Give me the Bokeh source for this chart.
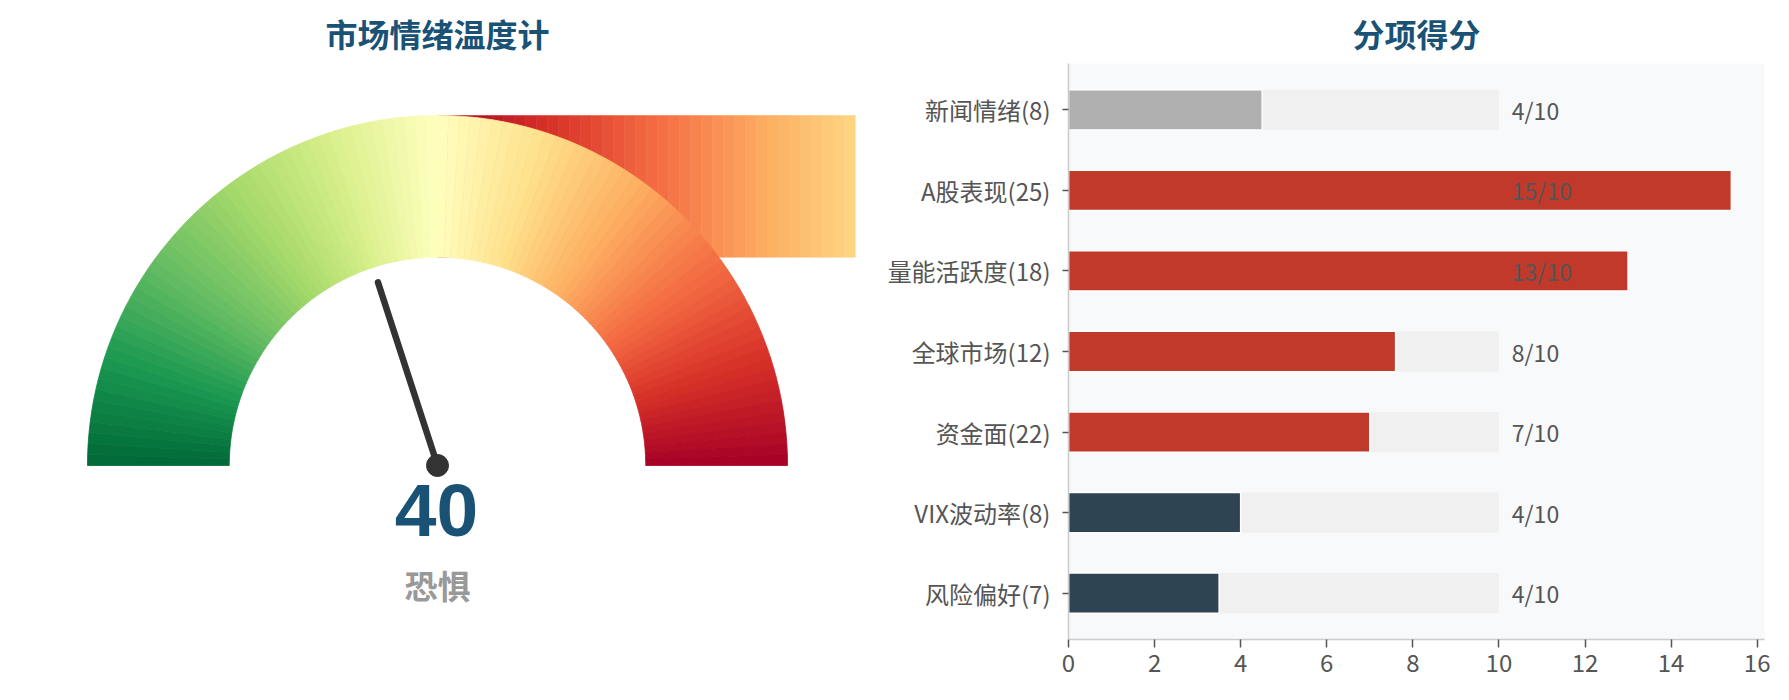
import math
from bokeh.plotting import figure
from bokeh.layouts import row
from bokeh.models import Range1d, FixedTicker, ColumnDataSource, Title
from bokeh.core.properties import value
from bokeh.embed import file_html
from bokeh.resources import INLINE

# ---------------- data ----------------
gauge_title = "市场情绪温度计"
score = 40
mood = "恐惧"

bar_title = "分项得分"
categories = ["新闻情绪(8)", "A股表现(25)", "量能活跃度(18)", "全球市场(12)",
              "资金面(22)", "VIX波动率(8)", "风险偏好(7)"]
scores = [4.5, 15.4, 13.0, 7.6, 7.0, 4.0, 3.5]
score_labels = ["4/10", "15/10", "13/10", "8/10", "7/10", "4/10", "4/10"]
full_scale = [10, 10, 10, 10, 10, 10, 10]
bar_colors = ["#b0b0b0", "#c0392b", "#c0392b", "#c0392b", "#c0392b", "#2e4453", "#2e4453"]
x_ticks = [0, 2, 4, 6, 8, 10, 12, 14, 16]

# RdYlGn palette (red -> green)
RDYLGN = ['#a50026', '#d73027', '#f46d43', '#fdae61', '#fee08b', '#ffffbf',
          '#d9ef8b', '#a6d96a', '#66bd63', '#1a9850', '#006837']


def cmap(c):
    c = min(max(c, 0.0), 1.0)
    pos = c * (len(RDYLGN) - 1)
    i = min(int(pos), len(RDYLGN) - 2)
    f = pos - i
    a = RDYLGN[i]
    b = RDYLGN[i + 1]
    rgb = []
    for k in (1, 3, 5):
        va = int(a[k:k + 2], 16)
        vb = int(b[k:k + 2], 16)
        rgb.append(round(va + (vb - va) * f))
    return "#%02x%02x%02x" % tuple(rgb)


CJK = value("Noto Sans CJK SC")
TITLE_COLOR = "#1a5276"
TEXT_COLOR = "#555555"
FIG_H = 690
BORDER_TOP = 63
BORDER_BOTTOM = 51
TITLE_STANDOFF = 15

# ---------------- gauge ----------------
N_SEG = 100
R_IN, R_OUT = 0.595, 1.0
starts, ends, cols = [], [], []
for i in range(N_SEG):
    t = (i + 0.5) / N_SEG
    starts.append(math.pi - (i + 1) * math.pi / N_SEG)
    ends.append(math.pi - i * math.pi / N_SEG)
    cols.append(cmap(1 - t))

g = figure(width=874, height=FIG_H, output_backend="svg", toolbar_location=None,
           x_range=Range1d(-1.24857, 1.24857), y_range=Range1d(-0.49714, 1.14857),
           min_border_left=0, min_border_right=0,
           min_border_top=BORDER_TOP, min_border_bottom=BORDER_BOTTOM)
g.axis.visible = False
g.grid.visible = False
g.outline_line_color = None
g.background_fill_color = "white"
g.border_fill_color = "white"

# stray strip of gauge segments (drawn flat, as in the reference)
sel = [k for k, s in enumerate(starts) if s < 0.375 * math.pi + 1e-9]
g.quad(left=[starts[k] for k in sel], right=[ends[k] for k in sel],
       bottom=R_IN, top=R_OUT,
       fill_color=[cols[k] for k in sel], line_color=[cols[k] for k in sel],
       line_width=0.5)

g.annular_wedge(x=0, y=0, inner_radius=R_IN, outer_radius=R_OUT,
                start_angle=starts, end_angle=ends,
                fill_color=cols, line_color=cols, line_width=0.8)

ang = math.pi * (1 - score / 100.0)
g.segment(x0=[0], y0=[0], x1=[0.55 * math.cos(ang)], y1=[0.55 * math.sin(ang)],
          line_color="#333333", line_width=6.5, line_cap="round")
g.scatter(x=[0], y=[0], size=22, fill_color="#333333", line_color="#333333")

g.text(x=[-0.003], y=[-0.127], text=[str(score)], text_font=value("Liberation Sans"),
       text_font_style="bold", text_font_size="75px", text_color=TITLE_COLOR,
       text_align="center", text_baseline="middle")
g.text(x=[0.0], y=[-0.34], text=[mood], text_font=CJK, text_font_style="bold",
       text_font_size="33px", text_color="#999999", text_align="center",
       text_baseline="middle")
g.title = Title(text=gauge_title, align="center", text_font="Noto Sans CJK SC",
                text_font_style="bold", text_font_size="32px",
                text_color=TITLE_COLOR, standoff=TITLE_STANDOFF)

# ---------------- bars ----------------
n = len(categories)
ypos = [n - 1 - i for i in range(n)]
src = ColumnDataSource(dict(y=ypos, score=scores, full=full_scale, color=bar_colors,
                            label=score_labels, lx=[f + 0.3 for f in full_scale]))

b = figure(width=910, height=FIG_H, output_backend="svg", toolbar_location=None,
           x_range=Range1d(0, 16.17), y_range=Range1d(-0.575, n - 1 + 0.575),
           min_border_left=194, min_border_right=20, min_border_top=BORDER_TOP,
           min_border_bottom=BORDER_BOTTOM)
b.background_fill_color = "#f8f9fa"
b.border_fill_color = "white"
b.outline_line_color = None
b.grid.visible = False

b.hbar(y="y", left=0, right="full", height=0.5, source=src,
       fill_color="#f0f0f0", line_color=None)
b.hbar(y="y", left=0, right="score", height=0.5, source=src,
       fill_color="color", line_color="white", line_width=1.5)
b.text(x="lx", y="y", text="label", source=src, text_font=CJK,
       text_font_size="23px", text_color=TEXT_COLOR, text_align="left",
       text_baseline="middle")

b.xaxis.ticker = FixedTicker(ticks=x_ticks)
b.yaxis.ticker = FixedTicker(ticks=ypos)
b.yaxis.major_label_overrides = {y: c for y, c in zip(ypos, categories)}
for ax in (b.xaxis[0], b.yaxis[0]):
    ax.axis_line_color = "#cccccc"
    ax.axis_line_width = 1.6
    ax.major_tick_line_color = TEXT_COLOR
    ax.major_tick_line_width = 1.5
    ax.major_tick_in = 0
    ax.minor_tick_line_color = None
    ax.major_label_text_font = "Noto Sans CJK SC"
    ax.major_label_text_font_size = "24px"
    ax.major_label_text_color = TEXT_COLOR
b.xaxis.major_tick_out = 8
b.yaxis.major_tick_out = 6
b.xaxis.major_label_standoff = 6
b.yaxis.major_label_standoff = 12

b.title = Title(text=bar_title, align="center", text_font="Noto Sans CJK SC",
                text_font_style="bold", text_font_size="32px",
                text_color=TITLE_COLOR, standoff=TITLE_STANDOFF)

layout = row(g, b)
open("out.html", "w").write(file_html(layout, INLINE))
